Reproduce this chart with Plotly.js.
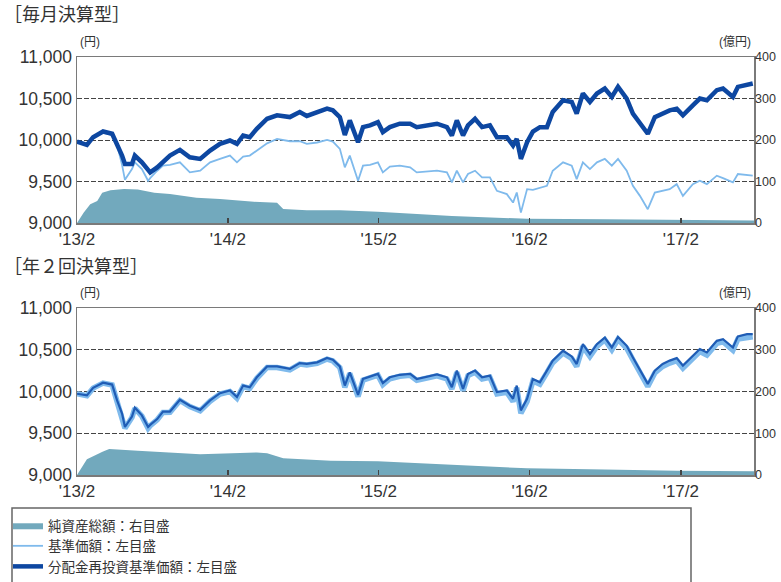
<!DOCTYPE html>
<html>
<head>
<meta charset="utf-8">
<script src="https://cdn.plot.ly/plotly-3.0.1.min.js"></script>
<style>
html,body{margin:0;padding:0;background:#fff;}
#chart{width:781px;height:582px;}
</style>
</head>
<body>
<div id="chart"></div>
<script>
// ---- data ----
const lineDates = [
 '2013-02-01','2013-02-25','2013-03-12','2013-04-05','2013-04-27','2013-05-09','2013-05-21','2013-05-28','2013-06-14','2013-06-21',
 '2013-07-08','2013-07-23','2013-07-28','2013-08-14','2013-08-28','2013-09-14','2013-10-08','2013-11-01','2013-11-26','2013-12-20',
 '2014-01-13','2014-02-06','2014-02-23','2014-03-10','2014-03-26','2014-04-12','2014-05-07','2014-05-31','2014-07-01','2014-07-25',
 '2014-08-11','2014-09-05','2014-09-29','2014-10-13','2014-10-30','2014-11-11','2014-11-23','2014-12-13','2014-12-25','2015-01-11',
 '2015-01-30','2015-02-11','2015-02-28','2015-03-24','2015-04-18','2015-05-04','2015-05-29','2015-06-22','2015-07-16','2015-07-28',
 '2015-08-09','2015-08-24','2015-09-05','2015-09-22','2015-10-09','2015-10-28','2015-11-14','2015-12-08','2015-12-23','2016-01-01',
 '2016-01-11','2016-01-26','2016-02-09','2016-02-26','2016-03-14','2016-03-28','2016-04-22','2016-05-13','2016-05-25','2016-06-09',
 '2016-06-26','2016-07-13','2016-08-01','2016-08-18','2016-09-02','2016-09-23','2016-10-08','2016-10-25','2016-11-13','2016-11-30',
 '2016-12-19','2017-01-05','2017-01-22','2017-02-06','2017-03-02','2017-03-19','2017-04-05','2017-04-29','2017-05-14','2017-06-07',
 '2017-06-19','2017-07-11','2017-07-25'
];
// 毎月決算型
const monthlyReinvest = [
 9980,9942,10034,10103,10075,9954,9812,9711,9711,9812,
 9731,9640,9610,9670,9731,9812,9881,9792,9772,9873,
 9954,9994,9954,10054,10034,10135,10256,10297,10276,10337,
 10290,10337,10378,10357,10276,10060,10236,9973,10155,10176,
 10216,10095,10155,10196,10196,10155,10176,10196,10155,10054,
 10236,10054,10176,10256,10155,10176,10034,10034,9933,10014,
 9772,9973,10100,10155,10155,10337,10479,10458,10317,10560,
 10458,10560,10620,10519,10640,10499,10317,10196,10075,10276,
 10317,10357,10378,10297,10418,10499,10479,10600,10620,10519,
 10640,10669,10681
];
const monthlyNav = [
 9980,9942,10034,10090,10060,9940,9700,9520,9650,9731,
 9650,9509,9540,9630,9691,9700,9731,9610,9630,9731,
 9772,9812,9731,9800,9812,9870,9960,10014,9985,9985,
 9954,9970,10000,9980,9893,9670,9812,9509,9691,9700,
 9731,9610,9680,9691,9670,9610,9620,9630,9610,9489,
 9630,9489,9590,9630,9549,9549,9388,9348,9246,9367,
 9125,9408,9400,9428,9448,9630,9731,9691,9529,9731,
 9650,9731,9772,9691,9772,9630,9448,9327,9166,9367,
 9388,9408,9468,9327,9468,9509,9468,9570,9540,9489,
 9590,9580,9570
];
// 年2回決算型
const semiReinvest = [
 9973,9953,10044,10105,10083,9893,9735,9575,9700,9806,
 9714,9575,9600,9670,9760,9760,9901,9830,9780,9893,
 9980,10012,9933,10071,10050,10170,10300,10300,10270,10340,
 10330,10349,10401,10380,10300,10071,10230,9960,10150,10180,
 10210,10100,10170,10200,10210,10150,10180,10205,10170,10052,
 10250,10032,10210,10250,10170,10190,9993,10012,9913,10071,
 9774,9913,10150,10111,10250,10369,10488,10420,10329,10567,
 10448,10567,10646,10527,10653,10547,10408,10250,10091,10250,
 10330,10370,10400,10310,10428,10508,10468,10607,10627,10527,
 10660,10686,10686
];
const semiNav = [
 9973,9950,10040,10100,10078,9885,9725,9560,9690,9800,
 9705,9560,9590,9662,9750,9752,9892,9820,9770,9884,
 9970,10000,9920,10060,10038,10158,10288,10288,10258,10328,
 10318,10336,10388,10366,10286,10050,10215,9940,10135,10165,
 10195,10082,10153,10183,10193,10133,10162,10187,10150,10030,
 10230,10010,10190,10230,10150,10170,9970,9990,9880,10045,
 9740,9880,10125,10088,10225,10345,10462,10395,10300,10540,
 10420,10540,10620,10500,10625,10518,10380,10222,10060,10222,
 10300,10340,10370,10280,10398,10478,10436,10576,10596,10494,
 10628,10654,10655
];
const monthlyAssetDates = ['2013-02-01','2013-02-17','2013-03-05','2013-03-22','2013-04-03','2013-04-23','2013-05-26','2013-06-28','2013-08-07','2013-09-14','2013-11-17','2014-01-13','2014-04-05','2014-05-31','2014-06-15','2014-08-11','2014-10-30','2015-01-30','2015-07-28','2016-01-26','2016-08-01','2017-01-22','2017-07-28'];
const monthlyAssets = [0,25,45,53,73,79,82,81,73,70,61,58,51,49,34,31,31,27,17,10,9,8,6];
const semiAssetDates = ['2013-02-01','2013-02-25','2013-04-05','2013-04-20','2013-06-28','2013-09-12','2013-11-26','2014-04-12','2014-05-07','2014-06-15','2014-10-08','2015-01-30','2015-04-18','2015-07-09','2016-01-26','2016-08-01','2017-01-22','2017-07-28'];
const semiAssets = [0,38,56,62,58,54,50,54,52,40,34,33,29,26,16,13,10,9];

const xTickVals = ['2013-02-01','2014-02-01','2015-02-01','2016-02-01','2017-02-01'];
const xTickText = ["'13/2","'14/2","'15/2","'16/2","'17/2"];
const leftTickVals = [9000,9500,10000,10500,11000];
const leftTickText = ['9,000','9,500','10,000','10,500','11,000'];
const rightTickVals = [0,100,200,300,400];
const rightTickText = ['0','100','200','300','400'];
const seriesNames = ['純資産総額：右目盛','基準価額：左目盛','分配金再投資基準価額：左目盛'];
const panelTitles = ['［毎月決算型］','［年２回決算型］'];

// ---- styling ----
const W = 781, H = 582;
const FONT = 'Liberation Sans, Noto Sans CJK JP, sans-serif';
const TXT = '#333333';
const AREA = '#72a9bd';
const LIGHT = '#7fbaec';
const DARK = '#0d47a1';
const px = v => v / W;
const py = v => 1 - v / H;

const traces = [
  {x: monthlyAssetDates, y: monthlyAssets, xaxis:'x', yaxis:'y2', type:'scatter', mode:'lines',
   fill:'tozeroy', fillcolor:AREA, line:{width:0, color:AREA}, name:seriesNames[0], legendgroup:'a', hoverinfo:'skip'},
  {x: lineDates, y: monthlyNav, xaxis:'x', yaxis:'y', type:'scatter', mode:'lines',
   line:{width:1.8, color:LIGHT}, name:seriesNames[1], legendgroup:'b'},
  {x: lineDates, y: monthlyReinvest, xaxis:'x', yaxis:'y', type:'scatter', mode:'lines',
   line:{width:4.5, color:DARK}, name:seriesNames[2], legendgroup:'c'},
  {x: semiAssetDates, y: semiAssets, xaxis:'x2', yaxis:'y4', type:'scatter', mode:'lines',
   fill:'tozeroy', fillcolor:AREA, line:{width:0, color:AREA}, showlegend:false},
  {x: lineDates, y: semiNav, xaxis:'x2', yaxis:'y3', type:'scatter', mode:'lines',
   line:{width:5.5, color:LIGHT}, showlegend:false},
  {x: lineDates, y: semiReinvest, xaxis:'x2', yaxis:'y3', type:'scatter', mode:'lines',
   line:{width:2.2, color:'#1f5cb5'}, showlegend:false}
];

const xCommon = {
  type:'date', range:['2013-02-01','2017-07-28'], tickmode:'array', tickvals:xTickVals, ticktext:xTickText,
  ticks:'inside', ticklen:5, tickwidth:1.5, tickcolor:'#444', showgrid:false, zeroline:false,
  showline:true, mirror:true, linecolor:'#7a7a7a', linewidth:1.5,
  tickfont:{family:FONT, size:17, color:TXT}
};
const yLeft = {
  range:[9000,11000], tickmode:'array', tickvals:leftTickVals, ticktext:leftTickText,
  showgrid:true, gridcolor:'#444', griddash:'5px,2px', gridwidth:1, zeroline:false,
  showline:true, mirror:true, linecolor:'#7a7a7a', linewidth:1.5, ticks:'',
  tickfont:{family:FONT, size:17.5, color:TXT}
};
const yRight = {
  range:[0,400], tickmode:'array', tickvals:rightTickVals, ticktext:rightTickText,
  side:'right', showgrid:false, zeroline:false, showline:false, ticks:'', ticklabelstandoff:0,
  tickfont:{family:FONT, size:12.5, color:TXT}
};

const layout = {
  width:W, height:H, margin:{l:0,r:0,t:0,b:0}, paper_bgcolor:'#fff', plot_bgcolor:'#fff',
  font:{family:FONT, color:TXT},
  xaxis: Object.assign({}, xCommon, {domain:[px(77), px(754)], anchor:'y'}),
  yaxis: Object.assign({}, yLeft, {domain:[py(223), py(57)], anchor:'x'}),
  yaxis2: Object.assign({}, yRight, {overlaying:'y', anchor:'x'}),
  xaxis2: Object.assign({}, xCommon, {domain:[px(77), px(754)], anchor:'y3'}),
  yaxis3: Object.assign({}, yLeft, {domain:[py(475), py(308)], anchor:'x2'}),
  yaxis4: Object.assign({}, yRight, {overlaying:'y3', anchor:'x2'}),
  showlegend:true,
  legend:{x:px(8), y:py(510), xanchor:'left', yanchor:'top', bgcolor:'rgba(0,0,0,0)',
          borderwidth:0, font:{family:FONT, size:13.5, color:TXT}, tracegroupgap:3, traceorder:'normal'},
  shapes:[
    {type:'rect', xref:'paper', yref:'paper', x0:px(12), x1:px(691), y0:py(600), y1:py(508),
     line:{color:'#666', width:1.5}, fillcolor:'rgba(0,0,0,0)'}
  ],
  annotations:[
    {text:panelTitles[0], xref:'paper', yref:'paper', x:px(2), y:py(3), xanchor:'left', yanchor:'top', showarrow:false,
     font:{family:FONT, size:18, color:TXT}},
    {text:'(円)', xref:'paper', yref:'paper', x:px(78), y:py(51), xanchor:'left', yanchor:'bottom', showarrow:false,
     font:{family:FONT, size:12, color:TXT}},
    {text:'(億円)', xref:'paper', yref:'paper', x:px(753), y:py(51), xanchor:'right', yanchor:'bottom', showarrow:false,
     font:{family:FONT, size:12, color:TXT}},
    {text:panelTitles[1], xref:'paper', yref:'paper', x:px(2), y:py(255), xanchor:'left', yanchor:'top', showarrow:false,
     font:{family:FONT, size:18, color:TXT}},
    {text:'(円)', xref:'paper', yref:'paper', x:px(78), y:py(302), xanchor:'left', yanchor:'bottom', showarrow:false,
     font:{family:FONT, size:12, color:TXT}},
    {text:'(億円)', xref:'paper', yref:'paper', x:px(753), y:py(302), xanchor:'right', yanchor:'bottom', showarrow:false,
     font:{family:FONT, size:12, color:TXT}}
  ]
};

Plotly.newPlot('chart', traces, layout, {displayModeBar:false, staticPlot:true});
</script>
</body>
</html>
